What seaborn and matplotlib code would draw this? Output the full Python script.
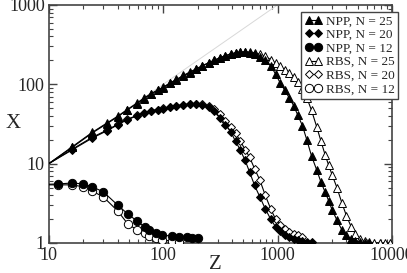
import matplotlib
matplotlib.use("Agg")
from matplotlib import pyplot as plt
from matplotlib.ticker import LogLocator, NullFormatter
import seaborn as sns

# Dados
z_25 = [10, 16, 24, 32, 40, 48, 59, 68, 78, 90, 100, 115, 130, 150, 170, 195, 220, 250, 280, 315,
        350, 390, 430, 470, 520, 570, 630, 700, 780, 870, 960, 1050, 1150, 1260, 1380, 1500, 1650,
        1800, 1980, 2200, 2400, 2600, 2800, 3000, 3300, 3650, 4000, 4400, 4800, 5300, 5800, 6300]
npp_25 = [10, 16, 24.4, 31.7, 38.9, 47, 57, 66, 75, 84, 91, 103, 113, 127, 140, 155, 170, 185, 200, 215,
          228, 240, 248, 252, 254, 250, 240, 222, 200, 170, 135, 105, 85, 68, 54, 41, 30,
          20, 12.5, 8.3, 5.8, 4.4, 3.4, 2.6, 1.95, 1.46, 1.25, 1.12, 1.06, 1.03, 1.01, 1.0]

z_rbs25 = [10, 16, 24, 32, 40, 48, 59, 68, 78, 90, 100, 115, 130, 150, 170, 195, 220, 250, 280, 315,
           350, 390, 430, 470, 520, 570, 630, 700, 780, 870, 960, 1050, 1150, 1260, 1380, 1500, 1650,
           1800, 1980, 2200, 2400, 2600, 2800, 3000, 3300, 3650, 4000, 4400, 4800, 5300, 5800, 6300,
           7000, 7800, 8700, 9600]
rbs_25 = [10, 16.3, 24.8, 32.3, 39.5, 47.5, 58, 67, 76, 85, 92, 104, 115, 129, 142, 157, 172, 187, 202, 217,
          230, 242, 250, 255, 257, 255, 250, 240, 225, 205, 185, 168, 152, 137, 124, 108, 88,
          68, 47, 29, 19, 13, 9.5, 7.2, 5.0, 3.2, 2.2, 1.6, 1.3, 1.12, 1.05, 1.02,
          1.01, 1.0, 1.0, 1.0]

z_20 = [10, 16, 24, 32, 40, 48, 59, 68, 78, 90, 100, 115, 130, 150, 170, 195, 220, 250, 280, 315,
        350, 390, 430, 470, 520, 570, 630, 700, 780, 870, 960, 1050, 1150, 1260, 1380, 1500, 1650,
        1800, 1980]
npp_20 = [10, 14.9, 21, 25.8, 30.8, 35.5, 40, 43.6, 46, 47.5, 49, 51, 53, 55, 56, 56, 55, 52, 46, 38,
          31, 25, 19, 15, 11, 7.8, 5.3, 3.8, 2.7, 2.0, 1.6, 1.4, 1.26, 1.18, 1.12, 1.08, 1.05,
          1.03, 1.02]

z_rbs20 = [10, 16, 24, 32, 40, 48, 59, 68, 78, 90, 100, 115, 130, 150, 170, 195, 220, 250, 280, 315,
           350, 390, 430, 470, 520, 570, 630, 700, 780, 870, 960, 1050, 1150, 1260, 1380, 1500, 1650]
rbs_20 = [10, 15.2, 21.5, 26.3, 31.3, 36, 40.5, 44, 46.5, 48, 49.5, 51.5, 53.5, 55.5, 56.5, 57, 56, 54, 49, 42,
          34, 29, 24, 19.5, 15, 12, 8.6, 6.2, 4.0, 2.7, 2.0, 1.7, 1.5, 1.38, 1.3, 1.25, 1.2]

z_12 = [10, 12, 16, 20, 24, 30, 40, 49, 59, 69, 75, 86, 97, 119, 137, 161, 180, 200]
npp_12 = [5.5, 5.54, 5.7, 5.55, 5.1, 4.4, 3.0, 2.32, 1.89, 1.59, 1.46, 1.34, 1.26, 1.22, 1.19, 1.18, 1.16, 1.15]

z_rbs12 = [10, 12, 16, 20, 24, 30, 40, 49, 59, 69, 75, 86, 97, 119, 137]
rbs_12 = [5.4, 5.4, 5.4, 5.1, 4.5, 3.8, 2.53, 1.74, 1.46, 1.34, 1.22, 1.15, 1.1, 1.05, 1.03]

# linha de referência X = Z
z_ref = [10, 1000]
x_ref = [10, 1000]

x_ticks = [10, 100, 1000, 10000]
x_labels = ["10", "100", "1000", "10000"]
y_ticks = [1, 10, 100, 1000]
y_labels = ["1", "10", "100", "1000"]

sns.set_style("ticks")
plt.rcParams["font.family"] = ["Liberation Serif", "DejaVu Serif"]

fig = plt.figure(figsize=(4.07, 2.73), dpi=100)
ax = fig.add_axes([0.120, 0.110, 0.843, 0.872])

sns.lineplot(x=z_ref, y=x_ref, ax=ax, color="#d8d8d8", linewidth=0.7)

series = [
    (z_25, npp_25, "^", "black", 5.5, "NPP, N = 25", 4),
    (z_20, npp_20, "D", "black", 4.2, "NPP, N = 20", 4),
    (z_12, npp_12, "o", "black", 6.0, "NPP, N = 12", 4),
    (z_rbs25, rbs_25, "^", "white", 5.5, "RBS, N = 25", 3),
    (z_rbs20, rbs_20, "D", "white", 4.2, "RBS, N = 20", 3),
    (z_rbs12, rbs_12, "o", "white", 6.0, "RBS, N = 12", 3),
]
for zs, xs, mk, fc, ms, lab, zo in series:
    sns.lineplot(x=zs, y=xs, ax=ax, color="black", linewidth=0.8, marker=mk,
                 markersize=ms, markerfacecolor=fc, markeredgecolor="black",
                 markeredgewidth=0.7, markevery=slice(1, None), label=lab,
                 estimator=None, sort=False, zorder=zo)

ax.set_xscale("log")
ax.set_yscale("log")
ax.set_xlim(10, 10000)
ax.set_ylim(1, 1000)
ax.set_xticks(x_ticks)
ax.set_xticklabels(x_labels)
ax.set_yticks(y_ticks)
ax.set_yticklabels(y_labels)
ax.xaxis.set_minor_locator(LogLocator(base=10, subs=range(2, 10)))
ax.yaxis.set_minor_locator(LogLocator(base=10, subs=range(2, 10)))
ax.xaxis.set_minor_formatter(NullFormatter())
ax.yaxis.set_minor_formatter(NullFormatter())
ax.tick_params(which="both", direction="in", top=True, right=True, labelsize=13,
               color="#444444", pad=3)
ax.tick_params(which="major", length=6, width=1)
ax.tick_params(which="minor", length=3, width=0.8)
for s in ax.spines.values():
    s.set_color("#444444")
    s.set_linewidth(1.2)

ax.set_xlabel("Z", fontsize=15)
ax.set_ylabel("X", fontsize=15, rotation=0, ha="center", va="center")
ax.xaxis.set_label_coords(0.484, -0.052)
ax.yaxis.set_label_coords(-0.105, 0.5)

leg = ax.legend(loc="upper right", bbox_to_anchor=(398 / 407, 1 - 12 / 273),
                bbox_transform=fig.transFigure, borderaxespad=0, fontsize=9.5,
                numpoints=2, handlelength=1.3, handletextpad=0.3, labelspacing=0.1,
                borderpad=0.25, fancybox=False, framealpha=1)
leg.get_frame().set_edgecolor("#444444")
leg.get_frame().set_linewidth(1.0)
leg.set_zorder(10)

fig.savefig("out.png", dpi=100)
